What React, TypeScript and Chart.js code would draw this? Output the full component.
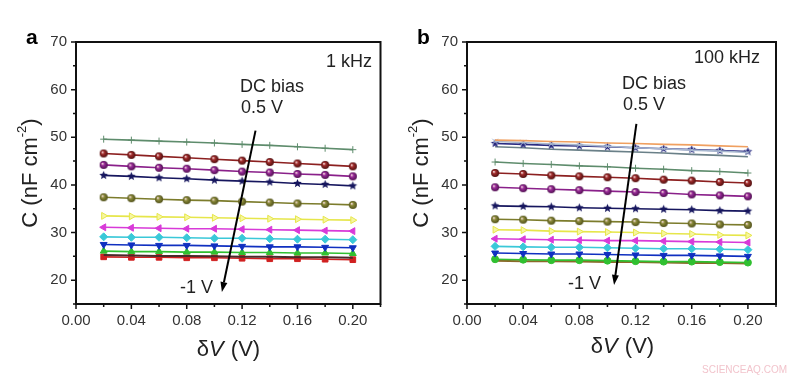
import React, { useEffect, useRef } from "react";
import { Chart, registerables } from "chart.js";
Chart.register(...registerables);

// ---------- data ----------
const deltaV = [0.02, 0.04, 0.06, 0.08, 0.1, 0.12, 0.14, 0.16, 0.18, 0.2];
const xTickLabels = ["0.00", "0.04", "0.08", "0.12", "0.16", "0.20"];
const yTickLabels = [20, 30, 40, 50, 60, 70];

// panel a : 1 kHz
const a_plus = [49.6, 49.4, 49.2, 49.0, 48.8, 48.5, 48.3, 48.0, 47.7, 47.4];
const a_red = [46.6, 46.3, 46.0, 45.7, 45.4, 45.1, 44.8, 44.5, 44.2, 43.9];
const a_purple = [44.2, 43.9, 43.6, 43.4, 43.1, 42.8, 42.6, 42.3, 42.1, 41.8];
const a_star = [42.0, 41.8, 41.5, 41.3, 41.0, 40.8, 40.6, 40.3, 40.1, 39.8];
const a_olive = [37.4, 37.2, 37.0, 36.8, 36.7, 36.5, 36.3, 36.1, 36.0, 35.8];
const a_yellow = [33.5, 33.4, 33.3, 33.2, 33.1, 33.0, 32.9, 32.8, 32.7, 32.6];
const a_magenta = [31.1, 31.0, 30.9, 30.8, 30.8, 30.7, 30.6, 30.5, 30.4, 30.3];
const a_cyan = [29.1, 29.0, 29.0, 28.9, 28.8, 28.8, 28.7, 28.6, 28.6, 28.5];
const a_blue = [27.5, 27.4, 27.3, 27.3, 27.2, 27.1, 27.0, 27.0, 26.9, 26.8];
const a_green = [26.1, 26.0, 26.0, 25.9, 25.9, 25.8, 25.8, 25.7, 25.7, 25.6];
const a_dark = [25.3, 25.2, 25.1, 25.1, 25.0, 24.9, 24.9, 24.8, 24.8, 24.7];
const a_square = [24.9, 24.8, 24.8, 24.7, 24.7, 24.6, 24.5, 24.5, 24.4, 24.3];

// panel b : 100 kHz
const b_orange = [49.4, 49.3, 49.1, 49.0, 48.8, 48.7, 48.5, 48.4, 48.2, 48.0];
const b_xmark = [49.1, 48.9, 48.6, 48.4, 48.1, 47.8, 47.6, 47.3, 47.1, 46.8];
const b_star1 = [48.7, 48.5, 48.3, 48.2, 48.0, 47.8, 47.6, 47.4, 47.2, 47.0];
const b_gray = [48.0, 47.8, 47.5, 47.3, 47.1, 46.9, 46.7, 46.4, 46.2, 45.9];
const b_plus = [44.8, 44.5, 44.3, 44.0, 43.8, 43.5, 43.3, 43.0, 42.8, 42.5];
const b_red = [42.5, 42.3, 42.0, 41.8, 41.6, 41.4, 41.1, 40.9, 40.6, 40.4];
const b_purple = [39.5, 39.3, 39.1, 38.9, 38.7, 38.5, 38.3, 38.0, 37.8, 37.6];
const b_star2 = [35.6, 35.5, 35.4, 35.2, 35.1, 35.0, 34.9, 34.8, 34.6, 34.5];
const b_olive = [32.8, 32.7, 32.5, 32.4, 32.3, 32.2, 32.0, 31.9, 31.7, 31.6];
const b_yellow = [30.6, 30.5, 30.3, 30.2, 30.1, 30.0, 29.8, 29.7, 29.5, 29.4];
const b_magenta = [28.7, 28.6, 28.5, 28.4, 28.3, 28.3, 28.2, 28.1, 28.0, 27.9];
const b_cyan = [27.1, 27.0, 26.9, 26.9, 26.8, 26.7, 26.6, 26.6, 26.5, 26.4];
const b_blue = [25.7, 25.6, 25.5, 25.5, 25.4, 25.3, 25.2, 25.2, 25.1, 25.0];
const b_brown = [24.1, 24.0, 24.0, 23.9, 23.8, 23.8, 23.7, 23.6, 23.6, 23.5];
const b_green = [24.4, 24.3, 24.2, 24.2, 24.1, 24.0, 23.9, 23.9, 23.8, 23.7];

const FONT = "'Liberation Sans', Arial, sans-serif";

// ---------- marker images ----------
function sphere(color: string, dark: string, r: number) {
  const c = document.createElement("canvas");
  const s = Math.ceil(r * 2 + 2);
  c.width = s;
  c.height = s;
  const g = c.getContext("2d")!;
  const m = s / 2;
  const grad = g.createRadialGradient(m - r * 0.35, m - r * 0.35, r * 0.1, m, m, r);
  grad.addColorStop(0, "#f4d8d8");
  grad.addColorStop(0.35, color);
  grad.addColorStop(1, dark);
  g.fillStyle = grad;
  g.beginPath();
  g.arc(m, m, r, 0, Math.PI * 2);
  g.fill();
  return c;
}
function star(color: string, r: number) {
  const c = document.createElement("canvas");
  const s = Math.ceil(r * 2 + 2);
  c.width = s;
  c.height = s;
  const g = c.getContext("2d")!;
  const m = s / 2;
  g.fillStyle = color;
  g.beginPath();
  for (let i = 0; i < 10; i++) {
    const rr = i % 2 === 0 ? r : r * 0.45;
    const a = -Math.PI / 2 + (i * Math.PI) / 5;
    const px = m + rr * Math.cos(a);
    const py = m + rr * Math.sin(a);
    if (i === 0) g.moveTo(px, py);
    else g.lineTo(px, py);
  }
  g.closePath();
  g.fill();
  return c;
}

type Spec = {
  data: number[];
  color: string;
  style?: any;
  fill?: string;
  rot?: number;
  radius?: number;
  width?: number;
};

function buildDatasets(specs: Spec[]) {
  return specs.map((s) => ({
    data: s.data.map((v, i) => ({ x: deltaV[i], y: v })),
    borderColor: s.color,
    backgroundColor: s.fill ?? s.color,
    borderWidth: s.width ?? 1.6,
    pointStyle: s.style ?? "circle",
    pointRotation: s.rot ?? 0,
    pointRadius: s.radius ?? 3.5,
    pointBorderColor: s.color,
    pointBackgroundColor: s.fill ?? s.color,
    pointBorderWidth: 1,
    tension: 0,
  }));
}

function specsA(): Spec[] {
  return [
    { data: a_plus, color: "#5e8c6c", style: "cross", radius: 3.5 },
    { data: a_red, color: "#8c2020", style: sphere("#a02a2a", "#501010", 4) },
    { data: a_purple, color: "#8a208a", style: sphere("#9a2a9a", "#501050", 4) },
    { data: a_star, color: "#16165e", style: star("#16165e", 4.5) },
    { data: a_olive, color: "#7c7c2c", style: sphere("#8a8a38", "#50501a", 4) },
    { data: a_yellow, color: "#e6e64a", fill: "#f6f6a0", style: "triangle", rot: 90, radius: 4 },
    { data: a_magenta, color: "#d83ad8", style: "triangle", rot: -90, radius: 4 },
    { data: a_cyan, color: "#3ac8d8", style: "rectRot", radius: 4 },
    { data: a_blue, color: "#1030c0", style: "triangle", rot: 180, radius: 4 },
    { data: a_green, color: "#30c030", style: "triangle", radius: 4 },
    { data: a_dark, color: "#4a2a2a", radius: 0, width: 2 },
    { data: a_square, color: "#d02020", style: "rect", radius: 4 },
  ];
}
function specsB(): Spec[] {
  return [
    { data: b_orange, color: "#f0a060", radius: 0 },
    { data: b_xmark, color: "#a8b8d0", style: "crossRot", radius: 4 },
    { data: b_star1, color: "#2a2a80", style: star("#2a2a80", 4.5) },
    { data: b_gray, color: "#6a8088", radius: 0 },
    { data: b_plus, color: "#5e8c6c", style: "cross", radius: 3.5 },
    { data: b_red, color: "#8c2020", style: sphere("#a02a2a", "#501010", 4) },
    { data: b_purple, color: "#8a208a", style: sphere("#9a2a9a", "#501050", 4) },
    { data: b_star2, color: "#16165e", style: star("#16165e", 4.5) },
    { data: b_olive, color: "#7c7c2c", style: sphere("#8a8a38", "#50501a", 4) },
    { data: b_yellow, color: "#e6e64a", fill: "#f6f6a0", style: "triangle", rot: 90, radius: 4 },
    { data: b_magenta, color: "#d83ad8", style: "triangle", rot: -90, radius: 4 },
    { data: b_cyan, color: "#3ac8d8", style: "rectRot", radius: 4 },
    { data: b_blue, color: "#1030c0", style: "triangle", rot: 180, radius: 4 },
    { data: b_green, color: "#30c030", style: "circle", radius: 3.5 },
    { data: b_brown, color: "#8a6a2a", radius: 0, width: 2 },
  ];
}

type Panel = {
  letter: string;
  freq: string;
  axisLeft: number;
  padRight: number;
  letterX: number;
  yTitleX: number;
  xTitleX: number;
  xTitleY: number;
  dcX: number;
  dcY: number;
  halfY: number;
  freqRight: number;
  freqY: number;
  m1X: number;
  m1Y: number;
  arrowFrom: [number, number];
  arrowTo: [number, number];
  watermark?: boolean;
};

const framePlugin = {
  id: "frame",
  afterDraw(chart: any, _args: any, p: Panel) {
    const { ctx, chartArea: ca, scales } = chart;
    const xs = scales.x;
    const ys = scales.y;
    ctx.save();
    ctx.strokeStyle = "#111";
    ctx.lineWidth = 1.5;
    ctx.beginPath();
    for (let v = 15; v <= 70; v += 5) {
      const py = ys.getPixelForValue(v);
      const len = v % 10 === 0 ? 5 : 3;
      ctx.moveTo(ca.left - len, py);
      ctx.lineTo(ca.left, py);
    }
    for (let i = 0; i <= 11; i++) {
      const px = xs.getPixelForValue(i * 0.02);
      const len = i % 2 === 0 ? 5 : 3;
      ctx.moveTo(px, ca.bottom);
      ctx.lineTo(px, ca.bottom + len);
    }
    ctx.stroke();
    ctx.lineWidth = 2;
    ctx.strokeRect(ca.left, ca.top, ca.right - ca.left, ca.bottom - ca.top);

    // arrow
    const x1 = xs.getPixelForValue(p.arrowFrom[0]);
    const y1 = ys.getPixelForValue(p.arrowFrom[1]);
    const x2 = xs.getPixelForValue(p.arrowTo[0]);
    const y2 = ys.getPixelForValue(p.arrowTo[1]);
    const ang = Math.atan2(y2 - y1, x2 - x1);
    const hl = 10;
    const hw = 3.5;
    const bx = x2 - hl * Math.cos(ang);
    const by = y2 - hl * Math.sin(ang);
    ctx.strokeStyle = "#000";
    ctx.lineWidth = 2;
    ctx.beginPath();
    ctx.moveTo(x1, y1);
    ctx.lineTo(bx, by);
    ctx.stroke();
    ctx.fillStyle = "#000";
    ctx.beginPath();
    ctx.moveTo(x2, y2);
    ctx.lineTo(bx + hw * Math.sin(ang), by - hw * Math.cos(ang));
    ctx.lineTo(bx - hw * Math.sin(ang), by + hw * Math.cos(ang));
    ctx.closePath();
    ctx.fill();

    // annotations
    ctx.fillStyle = "#222";
    ctx.textBaseline = "middle";
    ctx.font = `18px ${FONT}`;
    ctx.textAlign = "left";
    ctx.fillText("DC bias", p.dcX, p.dcY);
    ctx.fillText("0.5 V", p.dcX + 1, p.halfY);
    ctx.fillText("-1 V", p.m1X, p.m1Y);
    ctx.textAlign = "right";
    ctx.fillText(p.freq, p.freqRight, p.freqY);

    // panel letter
    ctx.textAlign = "left";
    ctx.fillStyle = "#000";
    ctx.font = `bold 21px ${FONT}`;
    ctx.fillText(p.letter, p.letterX, 38);

    // x title: δV (V)
    ctx.fillStyle = "#222";
    const big = `22px ${FONT}`;
    const ital = `italic 22px ${FONT}`;
    ctx.font = big;
    const wD = ctx.measureText("δ").width;
    const wR = ctx.measureText(" (V)").width;
    ctx.font = ital;
    const wV = ctx.measureText("V").width;
    let sx = p.xTitleX - (wD + wV + wR) / 2;
    ctx.textAlign = "left";
    ctx.font = big;
    ctx.fillText("δ", sx, p.xTitleY);
    sx += wD;
    ctx.font = ital;
    ctx.fillText("V", sx, p.xTitleY);
    sx += wV + 1;
    ctx.font = big;
    ctx.fillText(" (V)", sx, p.xTitleY);

    // y title: C (nF cm-2)
    ctx.save();
    const cy = (ca.top + ca.bottom) / 2;
    ctx.translate(p.yTitleX, cy);
    ctx.rotate(-Math.PI / 2);
    const sup = `13px ${FONT}`;
    ctx.font = big;
    const w1 = ctx.measureText("C (nF cm").width;
    const w3 = ctx.measureText(")").width;
    ctx.font = sup;
    const w2 = ctx.measureText("-2").width;
    let tx = -(w1 + w2 + w3) / 2;
    ctx.font = big;
    ctx.fillText("C (nF cm", tx, 0);
    tx += w1;
    ctx.font = sup;
    ctx.fillText("-2", tx, -9);
    tx += w2;
    ctx.font = big;
    ctx.fillText(")", tx, 0);
    ctx.restore();

    if (p.watermark) {
      ctx.font = `10px ${FONT}`;
      ctx.fillStyle = "#f2c4cc";
      ctx.textAlign = "left";
      ctx.fillText("SCIENCEAQ.COM", 302, 370);
    }
    ctx.restore();
  },
};

function makeConfig(specs: Spec[], p: Panel): any {
  return {
    type: "line",
    data: { datasets: buildDatasets(specs) },
    plugins: [framePlugin],
    options: {
      animation: false,
      responsive: false,
      events: [],
      layout: { padding: { left: 0, right: p.padRight, top: 42, bottom: 0 } },
      plugins: {
        legend: { display: false },
        tooltip: { enabled: false },
        frame: p,
      },
      scales: {
        x: {
          type: "linear",
          min: 0,
          max: 0.22,
          afterFit: (s: any) => {
            s.height = 77;
          },
          afterBuildTicks: (s: any) => {
            s.ticks = xTickLabels.map((_, i) => ({ value: i * 0.04 }));
          },
          ticks: {
            autoSkip: false,
            maxRotation: 0,
            padding: 3,
            color: "#333",
            font: { family: FONT, size: 15 },
            callback: (_v: any, i: number) => xTickLabels[i] ?? "",
          },
          grid: { color: "rgba(0,0,0,0)", drawOnChartArea: false, tickLength: 5 },
          border: { display: false },
        },
        y: {
          type: "linear",
          min: 15,
          max: 70,
          afterFit: (s: any) => {
            s.width = p.axisLeft;
          },
          afterBuildTicks: (s: any) => {
            s.ticks = yTickLabels.map((v) => ({ value: v }));
          },
          ticks: {
            autoSkip: false,
            padding: 4,
            color: "#333",
            font: { family: FONT, size: 15 },
          },
          grid: { color: "rgba(0,0,0,0)", drawOnChartArea: false, tickLength: 5 },
          border: { display: false },
        },
      },
    },
  };
}

const panelA: Panel = {
  letter: "a",
  freq: "1 kHz",
  axisLeft: 76,
  padRight: 19.5,
  letterX: 26,
  yTitleX: 31,
  xTitleX: 228,
  xTitleY: 350,
  dcX: 240,
  dcY: 87,
  halfY: 108,
  freqRight: 372,
  freqY: 62,
  m1X: 180,
  m1Y: 288,
  arrowFrom: [0.1297, 51.4],
  arrowTo: [0.1054, 17.5],
};
const panelB: Panel = {
  letter: "b",
  freq: "100 kHz",
  axisLeft: 67,
  padRight: 24,
  letterX: 17,
  yTitleX: 22,
  xTitleX: 222,
  xTitleY: 347,
  dcX: 222,
  dcY: 84,
  halfY: 105,
  freqRight: 360,
  freqY: 58,
  m1X: 168,
  m1Y: 284,
  arrowFrom: [0.1206, 52.8],
  arrowTo: [0.1047, 19.0],
  watermark: true,
};

function ChartPanel({ which, left }: { which: "a" | "b"; left: number }) {
  const ref = useRef<HTMLCanvasElement | null>(null);
  useEffect(() => {
    if (!ref.current) return;
    const cfg = which === "a" ? makeConfig(specsA(), panelA) : makeConfig(specsB(), panelB);
    const chart = new Chart(ref.current, cfg);
    return () => chart.destroy();
  }, [which]);
  return (
    <div style={{ position: "absolute", left, top: 0, width: 400, height: 381 }}>
      <canvas ref={ref} width={400} height={381} style={{ display: "block" }} />
    </div>
  );
}

export default function App() {
  return (
    <div
      style={{
        position: "fixed",
        left: 0,
        top: 0,
        width: 800,
        height: 381,
        background: "#fff",
        overflow: "hidden",
      }}
    >
      <ChartPanel which="a" left={0} />
      <ChartPanel which="b" left={400} />
    </div>
  );
}
